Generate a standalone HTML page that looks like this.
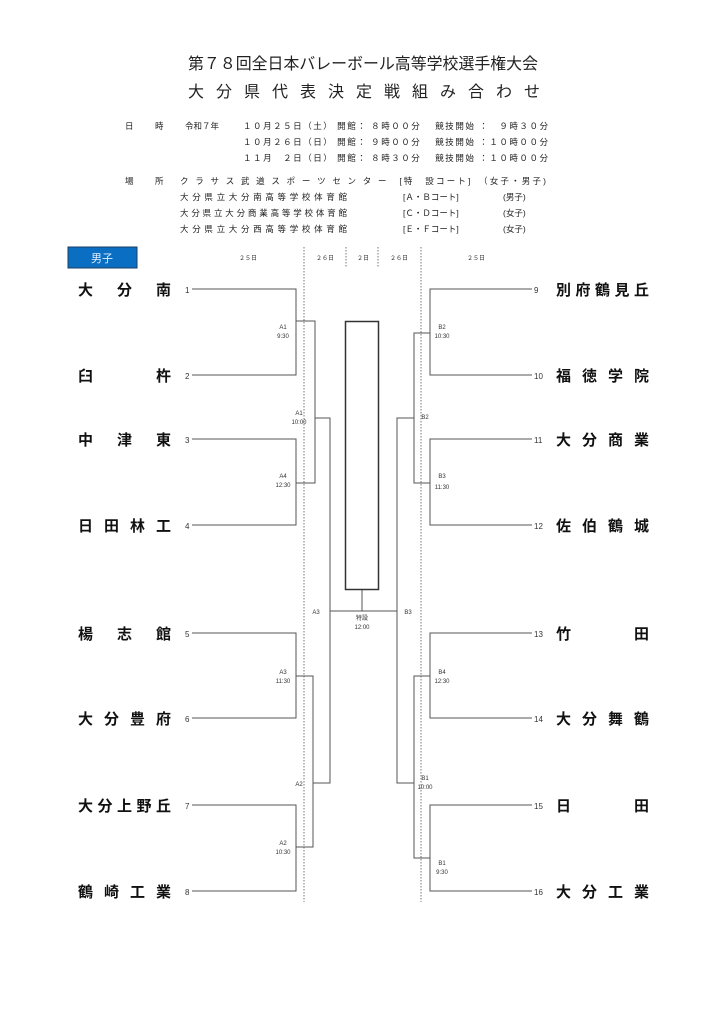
<!DOCTYPE html>
<html><head><meta charset="utf-8"><style>
html,body{margin:0;padding:0;background:#fff;}
svg{display:block;font-family:"Liberation Sans","Noto Sans CJK JP",sans-serif;}
.n{font-size:15px;font-weight:bold;fill:#111;}
.s{font-size:8px;fill:#333;}
.t{font-size:6px;fill:#333;}
.i{font-size:8.5px;fill:#222;}
</style></head><body>
<svg width="725" height="1024" viewBox="0 0 725 1024" xmlns="http://www.w3.org/2000/svg">
<text x="188" y="69" font-size="16" fill="#222" textLength="350" lengthAdjust="spacingAndGlyphs">第７８回全日本バレーボール高等学校選手権大会</text>
<text x="188" y="97" font-size="16" fill="#222" textLength="352" lengthAdjust="spacing">大分県代表決定戦組み合わせ</text>

<g class="i">
<text x="125" y="129">日</text><text x="155" y="129">時</text><text x="185" y="129">令和７年</text>
<text x="243" y="129" textLength="305" lengthAdjust="spacing">１０月２５日（土） 開館： ８時００分　 競技開始 ：　９時３０分</text>
<text x="243" y="145" textLength="305" lengthAdjust="spacing">１０月２６日（日） 開館： ９時００分　 競技開始 ：１０時００分</text>
<text x="243" y="161" textLength="305" lengthAdjust="spacing">１１月　２日（日） 開館： ８時３０分　 競技開始 ：１０時００分</text>
<text x="125" y="184">場</text><text x="155" y="184">所</text>
<text x="180" y="184" textLength="366" lengthAdjust="spacing">ク ラ サ ス 武 道 ス ポ ー ツ セ ン タ ー　[特　設コート]　（女子・男子)</text>
<text x="180" y="200" textLength="167" lengthAdjust="spacing">大分県立大分南高等学校体育館</text><text x="403" y="200">[Ａ・Ｂコート]</text><text x="503" y="200">(男子)</text>
<text x="180" y="216" textLength="167" lengthAdjust="spacing">大分県立大分商業高等学校体育館</text><text x="403" y="216">[Ｃ・Ｄコート]</text><text x="503" y="216">(女子)</text>
<text x="180" y="232" textLength="167" lengthAdjust="spacing">大分県立大分西高等学校体育館</text><text x="403" y="232">[Ｅ・Ｆコート]</text><text x="503" y="232">(女子)</text>
</g>

<rect x="68" y="247" width="69" height="21" fill="#0a6fc2" stroke="#1a3d66" stroke-width="1"/>
<text x="102" y="262" font-size="11" fill="#dfeeff" text-anchor="middle">男子</text>
<g class="t" text-anchor="middle">
<text x="248" y="260">２５日</text><text x="325" y="260">２６日</text><text x="363" y="260">２日</text><text x="399" y="260">２６日</text><text x="476" y="260">２５日</text>
</g>
<g stroke="#555" stroke-width="0.8" stroke-dasharray="1.5,1.5" fill="none">
<line x1="304" y1="247" x2="304" y2="902"/><line x1="421" y1="247" x2="421" y2="902"/>
<line x1="346" y1="247" x2="346" y2="268"/><line x1="378" y1="247" x2="378" y2="268"/>
</g>

<g stroke="#555" stroke-width="1" fill="none">
<!-- left -->
<polyline points="192,289 296,289 296,375 192,375"/>
<polyline points="192,439 296,439 296,525 192,525"/>
<polyline points="192,633 296,633 296,718 192,718"/>
<polyline points="192,805 296,805 296,891 192,891"/>
<polyline points="296,321 315,321 315,483 296,483"/>
<polyline points="296,676 313,676 313,847 296,847"/>
<polyline points="315,418 330,418 330,783 313,783"/>
<line x1="330" y1="611" x2="397" y2="611"/>
<line x1="362" y1="590" x2="362" y2="611"/>
<!-- right -->
<polyline points="532,289 430,289 430,375 532,375"/>
<polyline points="532,439 430,439 430,525 532,525"/>
<polyline points="532,633 430,633 430,718 532,718"/>
<polyline points="532,805 430,805 430,891 532,891"/>
<polyline points="430,333 414,333 414,483 430,483"/>
<polyline points="430,676 414,676 414,858 430,858"/>
<polyline points="414,418 397,418 397,783 414,783"/>
</g>
<rect x="345.5" y="321.5" width="33" height="268" fill="none" stroke="#333" stroke-width="1.5"/>

<g class="t" text-anchor="middle">
<text x="283" y="329">A1</text><text x="283" y="338">9:30</text>
<text x="299" y="415">A1</text><text x="299" y="424">10:00</text>
<text x="283" y="478">A4</text><text x="283" y="487">12:30</text>
<text x="316" y="614">A3</text>
<text x="283" y="674">A3</text><text x="283" y="683">11:30</text>
<text x="299" y="786">A2</text>
<text x="283" y="845">A2</text><text x="283" y="854">10:30</text>
<text x="442" y="329">B2</text><text x="442" y="338">10:30</text>
<text x="425" y="419">B2</text>
<text x="442" y="478">B3</text><text x="442" y="489">11:30</text>
<text x="408" y="614">B3</text>
<text x="362" y="620">特設</text><text x="362" y="629">12:00</text>
<text x="442" y="674">B4</text><text x="442" y="683">12:30</text>
<text x="425" y="780">B1</text><text x="425" y="789">10:00</text>
<text x="442" y="865">B1</text><text x="442" y="874">9:30</text>
</g>

<g class="s">
<text x="185" y="293">1</text><text x="185" y="379">2</text><text x="185" y="443">3</text><text x="185" y="529">4</text>
<text x="185" y="637">5</text><text x="185" y="722">6</text><text x="185" y="809">7</text><text x="185" y="895">8</text>
<text x="534" y="293">9</text><text x="534" y="379">10</text><text x="534" y="443">11</text><text x="534" y="529">12</text>
<text x="534" y="637">13</text><text x="534" y="722">14</text><text x="534" y="809">15</text><text x="534" y="895">16</text>
</g>
<g class="n">
<text x="78" y="295" textLength="93" lengthAdjust="spacing">大分南</text>
<text x="78" y="381" textLength="93" lengthAdjust="spacing">臼杵</text>
<text x="78" y="445" textLength="93" lengthAdjust="spacing">中津東</text>
<text x="78" y="531" textLength="93" lengthAdjust="spacing">日田林工</text>
<text x="78" y="639" textLength="93" lengthAdjust="spacing">楊志館</text>
<text x="78" y="724" textLength="93" lengthAdjust="spacing">大分豊府</text>
<text x="78" y="811" textLength="93" lengthAdjust="spacing">大分上野丘</text>
<text x="78" y="897" textLength="93" lengthAdjust="spacing">鶴崎工業</text>
<text x="556" y="295" textLength="93" lengthAdjust="spacing">別府鶴見丘</text>
<text x="556" y="381" textLength="93" lengthAdjust="spacing">福徳学院</text>
<text x="556" y="445" textLength="93" lengthAdjust="spacing">大分商業</text>
<text x="556" y="531" textLength="93" lengthAdjust="spacing">佐伯鶴城</text>
<text x="556" y="639" textLength="93" lengthAdjust="spacing">竹田</text>
<text x="556" y="724" textLength="93" lengthAdjust="spacing">大分舞鶴</text>
<text x="556" y="811" textLength="93" lengthAdjust="spacing">日田</text>
<text x="556" y="897" textLength="93" lengthAdjust="spacing">大分工業</text>
</g>
</svg>
</body></html>
